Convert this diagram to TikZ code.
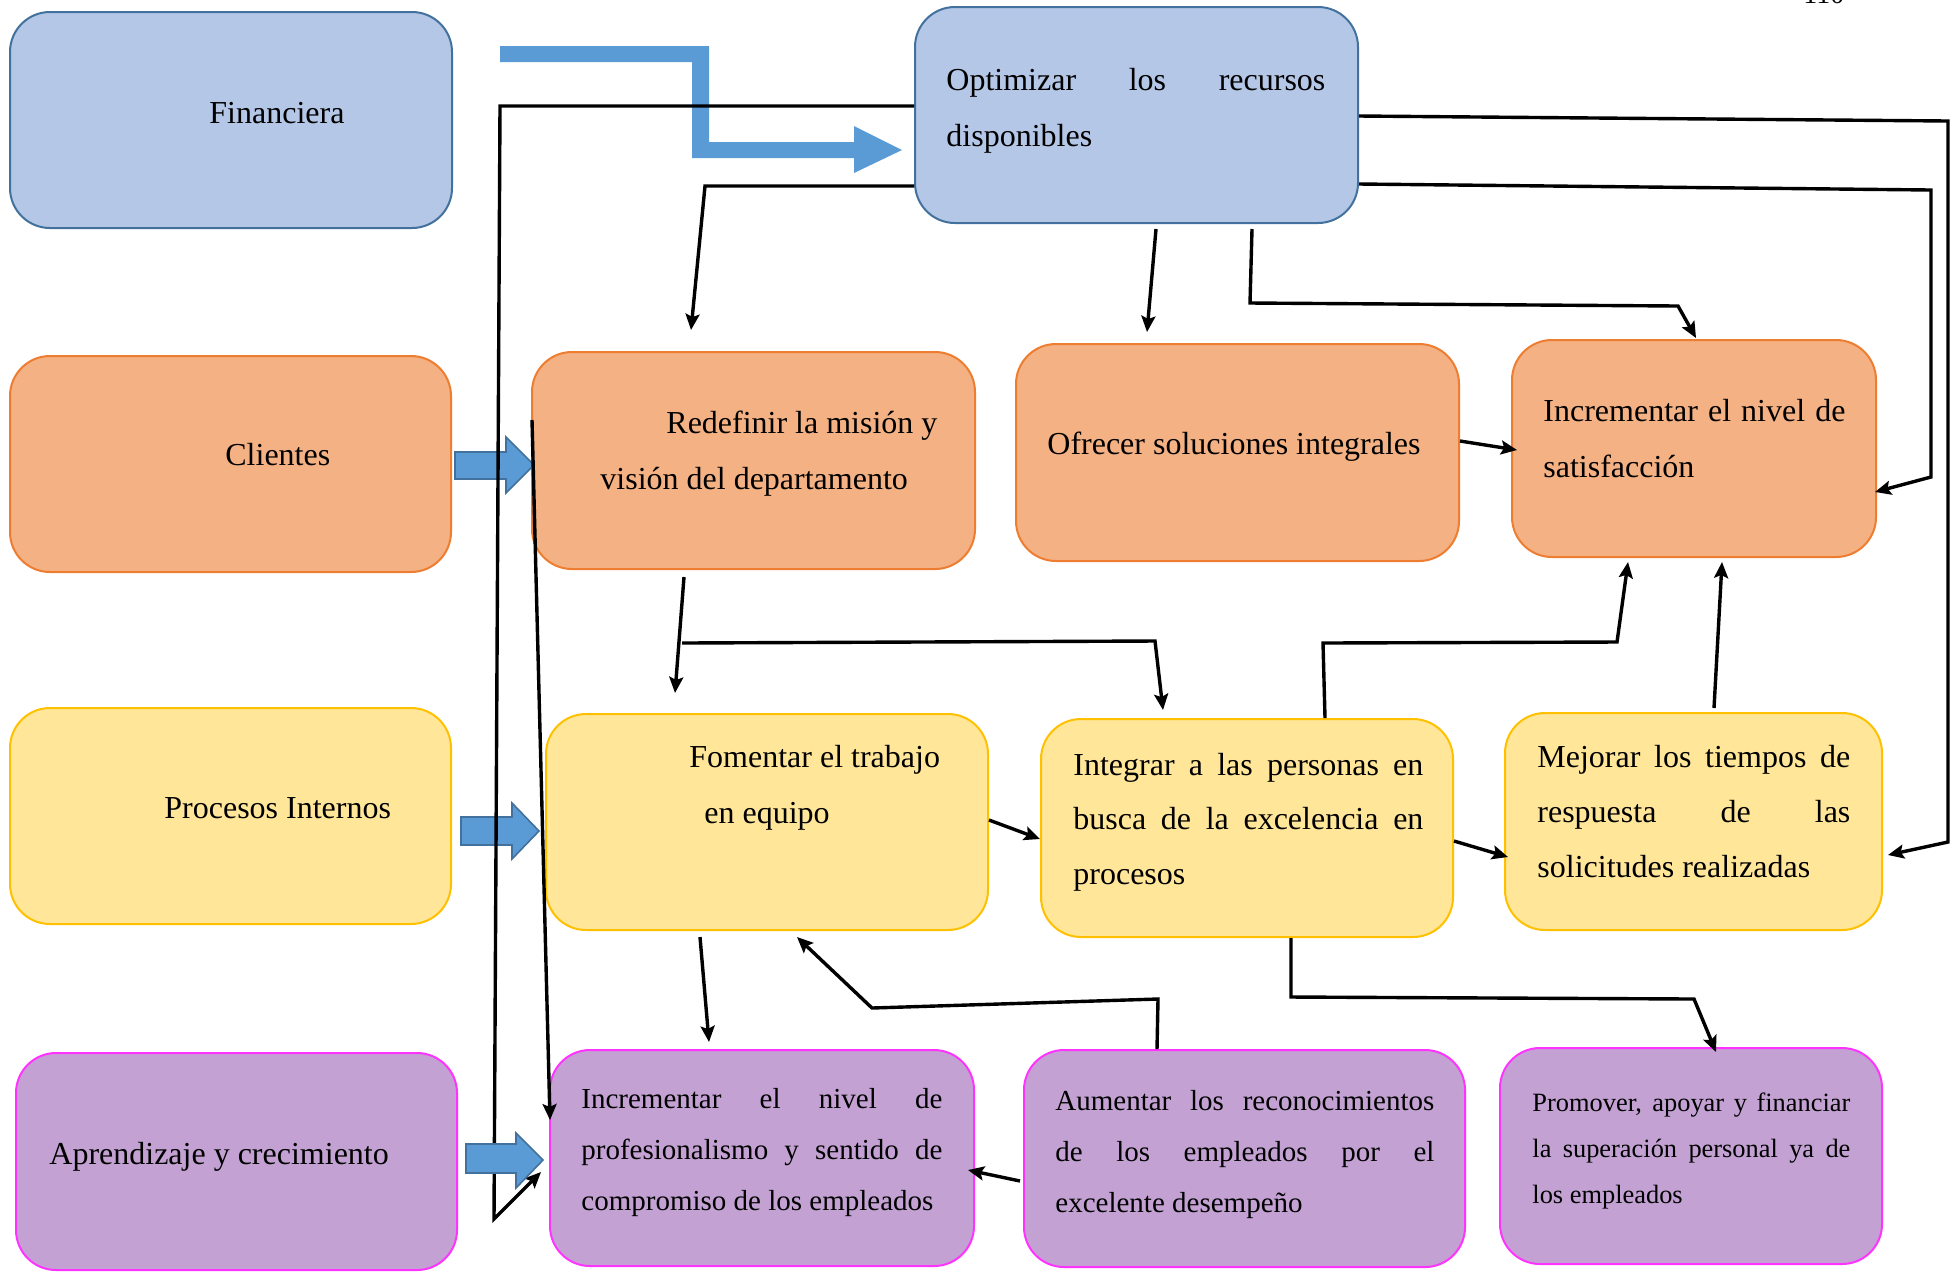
\documentclass[tikz,border=0pt]{standalone}
\usepackage{fontspec}
\setmainfont{Liberation Serif}
\usetikzlibrary{arrows.meta}
\definecolor{bfill}{HTML}{B4C7E7}
\definecolor{bdraw}{HTML}{41719C}
\definecolor{ofill}{HTML}{F4B183}
\definecolor{odraw}{HTML}{ED7D31}
\definecolor{yfill}{HTML}{FFE699}
\definecolor{ydraw}{HTML}{FFC000}
\definecolor{pfill}{HTML}{C3A2D3}
\definecolor{pdraw}{HTML}{FF33FF}
\definecolor{afill}{HTML}{5B9BD5}
\newcommand\jline[2]{\makebox[#1][s]{#2}}
\begin{document}
\begin{tikzpicture}[x=0.5pt,y=-0.5pt,
  box/.style={rounded corners=20pt, line width=1pt, inner sep=0pt},
  bluebox/.style={box, fill=bfill, draw=bdraw},
  orangebox/.style={box, fill=ofill, draw=odraw},
  yellowbox/.style={box, fill=yfill, draw=ydraw},
  purplebox/.style={box, fill=pfill, draw=pdraw},
  blockarrow/.style={fill=afill, draw=bdraw, line width=0.8pt},
  conn/.style={line width=1.7pt, line join=miter},
  arr/.style={conn, -{Stealth[length=8pt,width=7pt,inset=1.5pt]}},
  txt/.style={anchor=base west, inner sep=0pt, font=\fontsize{16}{28}\selectfont},
  ]
\useasboundingbox (0,0) rectangle (1957,1271);

% boxes
\node[bluebox, minimum width=221pt, minimum height=108pt] (fin) at (231,120) {};
\node[bluebox, minimum width=221.5pt, minimum height=108pt] (opt) at (1136.5,115) {};
\node[orangebox, minimum width=220.5pt, minimum height=108pt] (cli) at (230.5,464) {};
\node[orangebox, minimum width=221.5pt, minimum height=108.5pt] (red) at (753.5,460.5) {};
\node[orangebox, minimum width=221.5pt, minimum height=108.5pt] (ofr) at (1237.5,452.5) {};
\node[orangebox, minimum width=182pt, minimum height=108.5pt] (sat) at (1694,448.5) {};
\node[yellowbox, minimum width=220.5pt, minimum height=108pt] (pro) at (230.5,816) {};
\node[yellowbox, minimum width=221pt, minimum height=108pt] (fom) at (767,822) {};
\node[yellowbox, minimum width=206pt, minimum height=109pt] (int) at (1247,828) {};
\node[yellowbox, minimum width=188.5pt, minimum height=108.5pt] (mej) at (1693.5,821.5) {};
\node[purplebox, minimum width=220.5pt, minimum height=108.5pt] (apr) at (236.5,1161.5) {};
\node[purplebox, minimum width=212pt, minimum height=108pt] (prf) at (762,1158) {};
\node[purplebox, minimum width=220.5pt, minimum height=108.5pt] (aum) at (1244.5,1158.5) {};
\node[purplebox, minimum width=191pt, minimum height=108pt] (prm) at (1691,1156) {};

% texts
\node[txt] (fin-t) at (209,123) {Financiera};
\node[txt] (cli-t) at (225,465) {Clientes};
\node[txt] (pro-t) at (164,818) {Procesos Internos};
\node[txt] (apr-t) at (49,1164) {Aprendizaje y crecimiento};
\node[txt] (opt-t) at (946,90) {\parbox[t]{189.5pt}{\jline{189.5pt}{Optimizar los recursos}\\disponibles}};
\node[txt] (red-t) at (600,433) {\parbox[t]{170pt}{\hspace*{33pt}Redefinir la misión y\\visión del departamento}};
\node[txt] (ofr-t) at (1047,454) {Ofrecer soluciones integrales};
\node[txt] (sat-t) at (1543,421) {\parbox[t]{151pt}{\jline{151pt}{Incrementar el nivel de}\\satisfacción}};
\node[txt] (fom-t) at (689,767) {\parbox[t]{140pt}{Fomentar el trabajo\\\hspace*{7.5pt}en equipo}};
\node[txt, font=\fontsize{16}{27.3}\selectfont] (int-t) at (1073,775) {\parbox[t]{175pt}{\jline{175pt}{Integrar a las personas en}\\\jline{175pt}{busca de la excelencia en}\\procesos}};
\node[txt, font=\fontsize{16}{27.7}\selectfont] (mej-t) at (1537,767) {\parbox[t]{156.5pt}{\jline{156.5pt}{Mejorar los tiempos de}\\\jline{156.5pt}{respuesta de las}\\solicitudes realizadas}};
\node[txt, font=\fontsize{14.5}{25.5}\selectfont] (prf-t) at (581,1108) {\parbox[t]{180.5pt}{\jline{180.5pt}{Incrementar el nivel de}\\\jline{180.5pt}{profesionalismo y sentido de}\\compromiso de los empleados}};
\node[txt, font=\fontsize{14.5}{25.5}\selectfont] (aum-t) at (1055,1110) {\parbox[t]{189.5pt}{\jline{189.5pt}{Aumentar los reconocimientos}\\\jline{189.5pt}{de los empleados por el}\\excelente desempeño}};
\node[txt, font=\fontsize{13.2}{23}\selectfont] (prm-t) at (1532,1111) {\parbox[t]{159pt}{\jline{159pt}{Promover, apoyar y financiar}\\\jline{159pt}{la superación personal ya de}\\los empleados}};
\node[txt, font=\fontsize{14}{16}\selectfont] (pg) at (1803,3) {110};

% blue elbow arrow Financiera -> Optimizar
\fill[afill] (500,46) -- (709,46) -- (709,142) -- (854,142) -- (854,126) -- (902,150)
  -- (854,173) -- (854,158) -- (692,158) -- (692,62) -- (500,62) -- cycle;
% block arrows
\draw[blockarrow] (455,452) -- (506,452) -- (506,437) -- (534,465) -- (506,493) -- (506,479) -- (455,479) -- cycle;
\draw[blockarrow] (461,817) -- (512,817) -- (512,803) -- (539,831) -- (512,859) -- (512,845) -- (461,845) -- cycle;

% connectors
\draw[arr] (opt.west |- 0,106) -- (500,106) -- (494,1219) -- (541,1172);
\draw[arr] (opt.west |- 0,186) -- (705,186) -- (691,330);
\draw[arr] (1156,229) -- (1147,332);
\draw[arr] (1252,229) -- (1250,303) -- (1678,306) -- (1696,338);
\draw[arr] (opt.east |- 0,116) -- (1948,121) -- (1948,842) -- (1888,855);
\draw[arr] (opt.east |- 0,184) -- (1931,190) -- (1931,477) -- (1875,492);
\draw[arr] (ofr.east |- 0,441) -- (1517,450);
\draw[arr] (684,577) -- (675,693);
\draw[arr] (682,643) -- (1155,641) -- (1163,710);
\draw[arr] (int.north -| 1325,0) -- (1323,643) -- (1617,642) -- (1628,562);
\draw[arr] (1714,708) -- (1722,562);
\draw[arr] (fom.east |- 0,820) -- (1040,839);
\draw[arr] (int.east |- 0,841) -- (1508,857);
\draw[arr] (int.south -| 1291,0) -- (1291,997) -- (1694,999) -- (1716,1052);
\draw[arr] (aum.north -| 1157,0) -- (1158,999) -- (872,1008) -- (797,937);
\draw[arr] (700,937) -- (709,1042);
\draw[arr] (1020,1181) -- (968,1170);
\draw[arr] (532,420) -- (550,1120);

\draw[blockarrow] (466,1144) -- (516,1144) -- (516,1133) -- (543,1160) -- (516,1188) -- (516,1173) -- (466,1173) -- cycle;
\end{tikzpicture}
\end{document}
